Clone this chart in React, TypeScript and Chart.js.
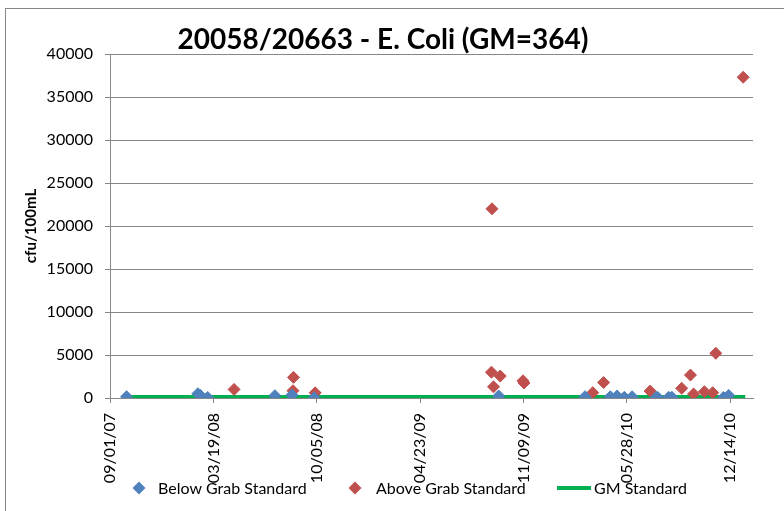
import React, { useEffect, useRef } from "react";
import { Chart, registerables } from "chart.js";

Chart.register(...registerables);

// ---- data ----
const chartTitle = "20058/20663 - E. Coli (GM=364)";
const yAxisTitle = "cfu/100mL";

const belowLabel = "Below Grab Standard";
const belowDates = [
  "2007-10-03", "2008-02-18", "2008-02-23", "2008-03-08", "2008-07-16", "2008-08-18",
  "2008-09-30", "2009-09-22", "2010-03-08", "2010-04-26", "2010-05-09", "2010-05-23",
  "2010-06-07", "2010-07-24", "2010-07-27", "2010-08-17", "2010-08-23", "2010-12-01",
  "2010-12-11",
];
const belowValues = [150, 500, 300, 60, 270, 350, 30, 230, 150, 150, 230, 80, 150, 80, 50, 80, 80, 60, 300];

const aboveLabel = "Above Grab Standard";
const aboveDates = [
  "2008-04-28", "2008-08-21", "2008-08-20", "2008-10-02", "2009-09-09", "2009-09-08",
  "2009-09-12", "2009-09-25", "2009-11-08", "2009-11-10", "2010-03-23", "2010-04-13",
  "2010-07-12", "2010-09-11", "2010-09-28", "2010-10-04", "2010-10-25", "2010-11-10",
  "2010-11-16", "2011-01-08",
];
const aboveValues = [1000, 2400, 850, 600, 22000, 3000, 1300, 2550, 2000, 1750, 620, 1800, 810, 1130, 2670, 470, 730, 620, 5200, 37300];

const gmLabel = "GM Standard";
const gmDates = ["2007-10-03", "2011-01-12"];
const gmValues = [126, 126];

const xMinDate = "2007-09-01";
const xMaxDate = "2011-01-27";
const xTickDates = ["2007-09-01", "2008-03-19", "2008-10-05", "2009-04-23", "2009-11-09", "2010-05-28", "2010-12-14"];
const yTicks = [0, 5000, 10000, 15000, 20000, 25000, 30000, 35000, 40000];

// ---- helpers ----
const DAY = 86400000;
const ORIGIN = Date.parse(xMinDate);
const toDay = (s: string) => (Date.parse(s) - ORIGIN) / DAY;
const fmtDay = (v: number) => {
  const d = new Date(ORIGIN + Math.round(v) * DAY);
  const mm = String(d.getUTCMonth() + 1).padStart(2, "0");
  const dd = String(d.getUTCDate()).padStart(2, "0");
  const yy = String(d.getUTCFullYear() % 100).padStart(2, "0");
  return `${mm}/${dd}/${yy}`;
};
const pts = (dates: string[], vals: number[]) => dates.map((d, i) => ({ x: toDay(d), y: vals[i] }));

const BLUE = "#4F81BD";
const RED = "#C0504D";
const GREEN = "#00B050";
const GRID = "#868686";
const FONT = "Lato";

const legendPlugin = {
  id: "customLegend",
  afterDraw(chart: any) {
    const ctx = chart.ctx as CanvasRenderingContext2D;
    const y = 488;
    const markerX = [139, 355];
    const textX = [158, 376, 594];
    const ds = chart.data.datasets;
    ctx.save();
    ctx.font = `16px ${FONT}`;
    ctx.textBaseline = "middle";
    ctx.textAlign = "left";
    for (let i = 0; i < 2; i++) {
      const r = 6.5;
      ctx.beginPath();
      ctx.moveTo(markerX[i], y - r);
      ctx.lineTo(markerX[i] + r, y);
      ctx.lineTo(markerX[i], y + r);
      ctx.lineTo(markerX[i] - r, y);
      ctx.closePath();
      ctx.fillStyle = ds[i].backgroundColor;
      ctx.fill();
    }
    ctx.beginPath();
    ctx.moveTo(557, y);
    ctx.lineTo(591, y);
    ctx.strokeStyle = ds[2].borderColor;
    ctx.lineWidth = 4;
    ctx.stroke();
    ctx.fillStyle = "#000";
    for (let i = 0; i < 3; i++) ctx.fillText(ds[i].label, textX[i], y + 1);
    ctx.restore();
  },
};

export default function App() {
  const ref = useRef<HTMLCanvasElement | null>(null);

  useEffect(() => {
    if (!ref.current) return;
    const chart = new Chart(ref.current, {
      type: "scatter",
      data: {
        datasets: [
          {
            label: belowLabel,
            data: pts(belowDates, belowValues),
            backgroundColor: BLUE,
            borderColor: BLUE,
            borderWidth: 1,
            pointStyle: "rectRot",
            pointRadius: 6,
            order: 0,
          },
          {
            label: aboveLabel,
            data: pts(aboveDates, aboveValues),
            backgroundColor: RED,
            borderColor: RED,
            borderWidth: 1,
            pointStyle: "rectRot",
            pointRadius: 6,
            order: 0,
          },
          {
            type: "line",
            label: gmLabel,
            data: pts(gmDates, gmValues),
            borderColor: GREEN,
            backgroundColor: GREEN,
            borderWidth: 4,
            pointRadius: 0,
            showLine: true,
            fill: false,
            order: 1,
          } as any,
        ],
      },
      options: {
        responsive: false,
        animation: false,
        devicePixelRatio: 1,
        layout: { padding: { left: 13, right: 31, top: 0, bottom: 28 } },
        font: { family: FONT } as any,
        plugins: {
          legend: { display: false },
          tooltip: { enabled: false },
          title: {
            display: true,
            text: chartTitle,
            color: "#000",
            font: { family: FONT, size: 28, weight: "bold", lineHeight: 1 },
            padding: { top: 26, bottom: 0 },
          },
        },
        scales: {
          x: {
            type: "linear",
            min: toDay(xMinDate),
            max: toDay(xMaxDate),
            afterBuildTicks: (scale: any) => {
              scale.ticks = xTickDates.map((d) => ({ value: toDay(d) }));
            },
            afterFit: (scale: any) => {
              scale.height = 85;
            },
            ticks: {
              autoSkip: false,
              minRotation: 90,
              maxRotation: 90,
              padding: 10,
              color: "#000",
              font: { family: FONT, size: 16 },
              callback: (v: any) => fmtDay(Number(v)),
            },
            grid: {
              display: true,
              drawOnChartArea: false,
              drawTicks: true,
              tickLength: 5,
              color: GRID,
            },
            border: { display: true, color: GRID, width: 1 },
          },
          y: {
            type: "linear",
            min: yTicks[0],
            max: yTicks[yTicks.length - 1],
            afterBuildTicks: (scale: any) => {
              scale.ticks = yTicks.map((v) => ({ value: v }));
            },
            afterFit: (scale: any) => {
              scale.width = 97;
            },
            ticks: {
              padding: 12,
              color: "#000",
              font: { family: FONT, size: 16 },
              callback: (v: any) => String(v),
            },
            grid: {
              display: true,
              drawOnChartArea: true,
              drawTicks: true,
              tickLength: 5,
              color: GRID,
            },
            border: { display: true, color: GRID, width: 1 },
            title: {
              display: true,
              text: yAxisTitle,
              color: "#000",
              font: { family: FONT, size: 15, weight: "bold" },
              padding: { top: 9, bottom: 0 },
            },
          },
        },
      },
      plugins: [legendPlugin],
    });
    return () => chart.destroy();
  }, []);

  return (
    <div
      style={{
        position: "fixed",
        left: 0,
        top: 0,
        width: 784,
        height: 511,
        overflow: "hidden",
        background: "#fff",
      }}
    >
      <div
        style={{
          position: "absolute",
          left: 5,
          top: 8,
          width: 800,
          height: 520,
          border: `1px solid ${GRID}`,
          boxSizing: "border-box",
        }}
      />
      <canvas
        ref={ref}
        width={784}
        height={511}
        style={{ position: "absolute", left: 0, top: 0, width: 784, height: 511 }}
      />
    </div>
  );
}
